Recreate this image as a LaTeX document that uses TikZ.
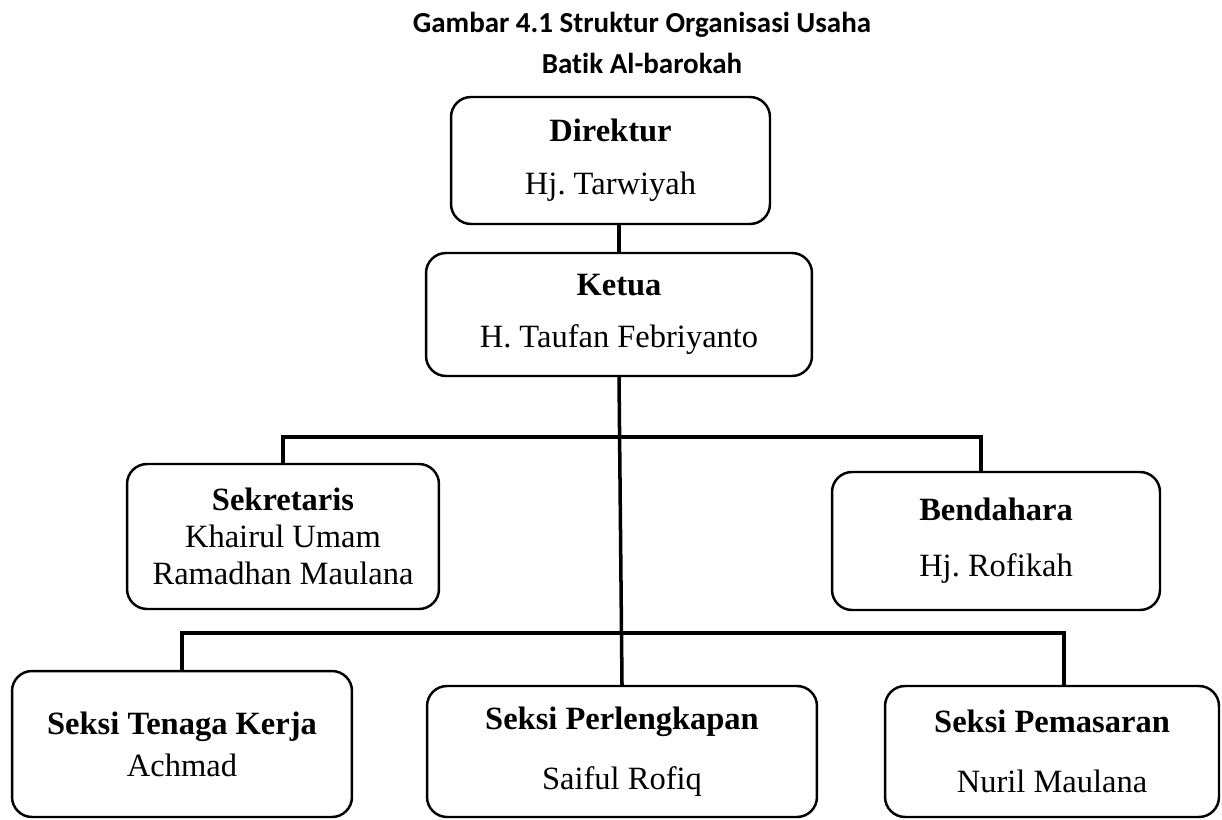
\documentclass[tikz,border=0pt]{standalone}
\usepackage{fontspec}
\setmainfont{Liberation Serif}
\newfontfamily\judulfont[Ligatures=NoCommon]{Carlito}
\begin{document}
\frenchspacing
\begin{tikzpicture}[x=0.02cm, y=-0.02cm]
\tikzset{kotak/.style={draw, rounded corners=0.4cm, line width=1.4pt, inner sep=0pt, align=center, font=\fontsize{18.5}{21}\selectfont},
garis/.style={line width=2pt}}
\useasboundingbox (0, 0) rectangle (1222, 820);
\node[anchor=base, font=\judulfont\bfseries\fontsize{16.5}{19}\selectfont] (judul1) at (642, 33) {Gambar 4.1 Struktur Organisasi Usaha};
\node[anchor=base, font=\judulfont\bfseries\fontsize{16.5}{19}\selectfont] (judul2) at (642, 74) {Batik Al-barokah};
\node[kotak, minimum width=6.38cm, minimum height=2.54cm] (direktur) at (610.5, 160.5) {\textbf{Direktur}\\[9pt] Hj. Tarwiyah};
\node[kotak, minimum width=7.72cm, minimum height=2.46cm] (ketua) at (619, 314.5) {\textbf{Ketua}\\[9pt] H. Taufan Febriyanto};
\node[kotak, minimum width=6.24cm, minimum height=2.9cm] (sekretaris) at (283, 536.5) {\textbf{Sekretaris}\\ Khairul Umam\\ Ramadhan Maulana};
\node[kotak, minimum width=6.56cm, minimum height=2.76cm] (bendahara) at (996, 541) {\textbf{Bendahara}\\[11pt] Hj. Rofikah};
\node[kotak, minimum width=6.8cm, minimum height=2.92cm] (tenaga) at (182, 744) {\textbf{Seksi Tenaga Kerja}\\[3pt] Achmad};
\node[kotak, minimum width=7.8cm, minimum height=2.62cm] (perlengkapan) at (622, 751.5) {\textbf{Seksi Perlengkapan}\\[13pt] Saiful Rofiq};
\node[kotak, minimum width=6.68cm, minimum height=2.62cm] (pemasaran) at (1052, 751.5) {\textbf{Seksi Pemasaran}\\[13pt] Nuril Maulana};
\coordinate (cabang1) at (283, 437);
\coordinate (cabang2) at (981, 437);
\coordinate (cabang3) at (182, 633);
\coordinate (cabang4) at (1064, 633);
\draw[garis] (ketua.north) -- (ketua.north |- direktur.south);
\draw[garis] (ketua.south) -- (perlengkapan.north);
\draw[garis] (sekretaris.north) -- (cabang1) -- (cabang2) -- (cabang2 |- bendahara.north);
\draw[garis] (tenaga.north) -- (cabang3) -- (cabang4) -- (cabang4 |- pemasaran.north);
\end{tikzpicture}
\end{document}
